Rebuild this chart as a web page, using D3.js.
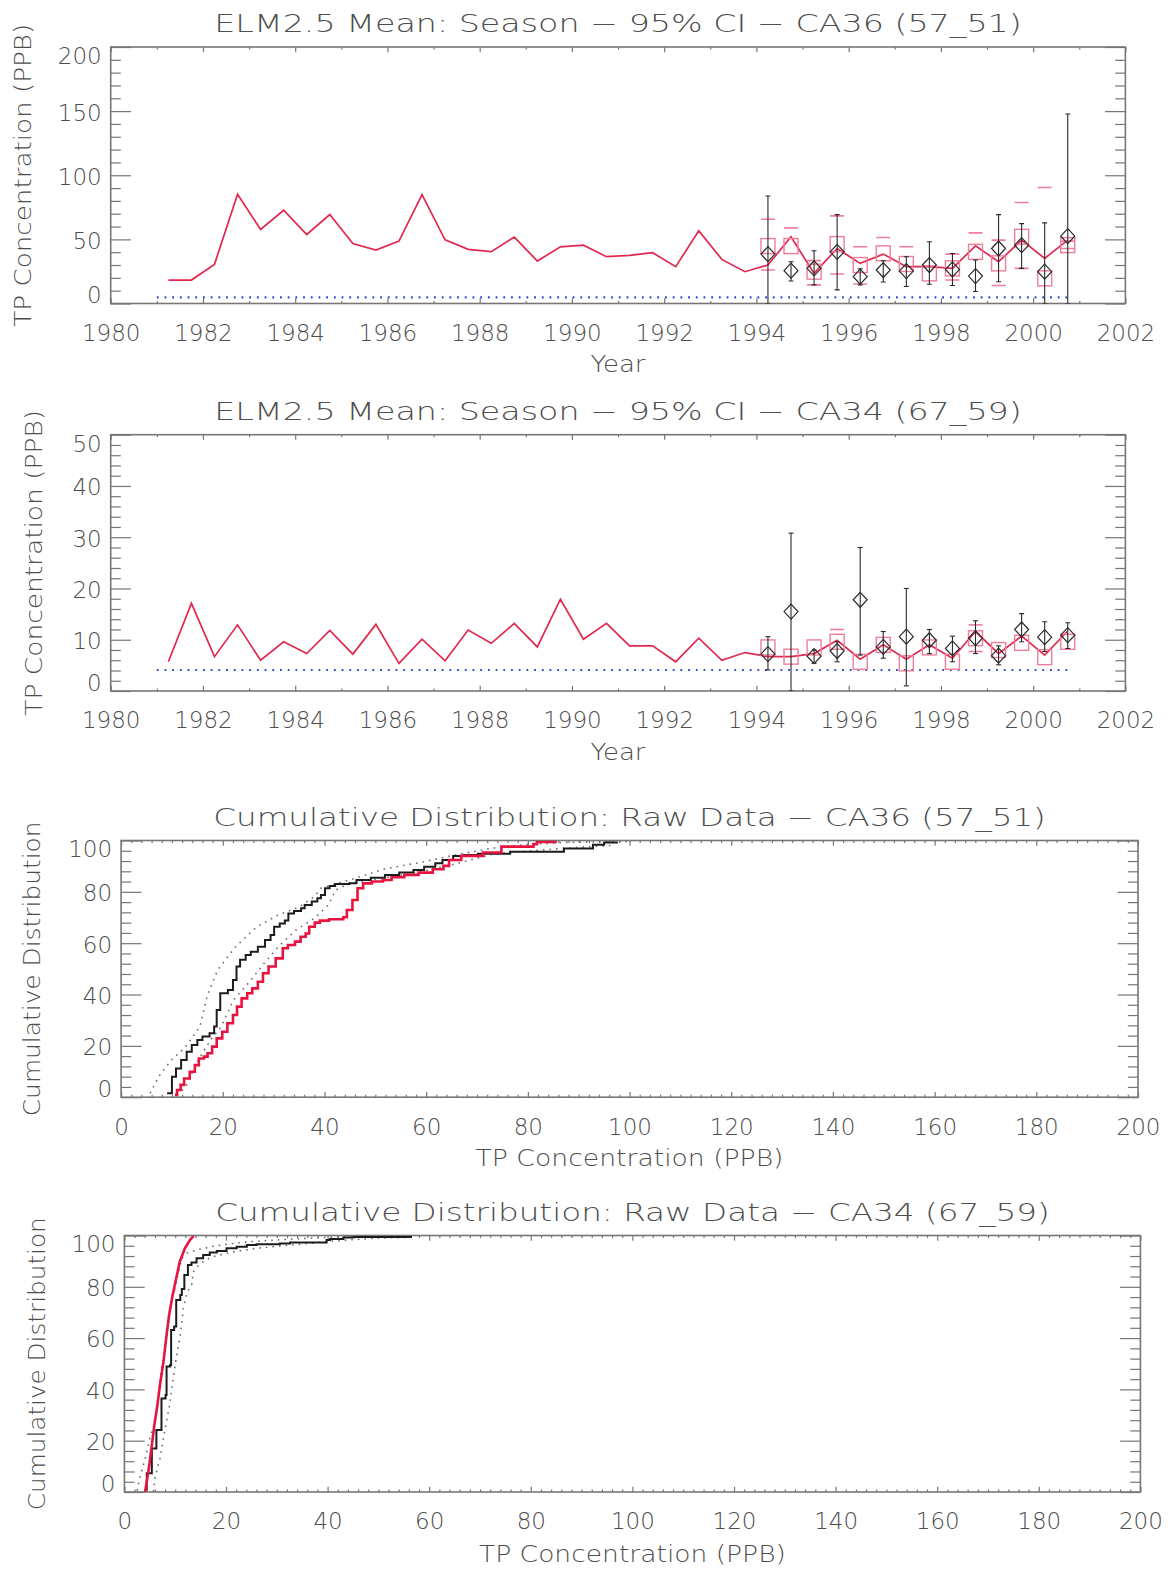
<!DOCTYPE html>
<html>
<head>
<meta charset="utf-8">
<script src="https://cdn.jsdelivr.net/npm/d3@7"></script>
<style>
body { margin: 0; background: #fff; }
text { font-family: "DejaVu Sans", sans-serif; font-weight: 200; }
</style>
</head>
<body>
<script>
// ---- seasonal model line (both stations) ----
var seasonYears = [1981.25, 1981.75, 1982.25, 1982.75, 1983.25, 1983.75, 1984.25, 1984.75, 1985.25, 1985.75,
	1986.25, 1986.75, 1987.25, 1987.75, 1988.25, 1988.75, 1989.25, 1989.75, 1990.25, 1990.75,
	1991.25, 1991.75, 1992.25, 1992.75, 1993.25, 1993.75, 1994.25, 1994.75, 1995.25, 1995.75,
	1996.25, 1996.75, 1997.25, 1997.75, 1998.25, 1998.75, 1999.25, 1999.75, 2000.25, 2000.75];

var ca36Model = [18.3, 18.3, 30.5, 85.2, 57.7, 72.7, 53.8, 69.4, 46.8, 41.7,
	48.7, 84.9, 49.6, 42.2, 40.4, 51.8, 33.1, 44.2, 45.5, 36.5,
	37.5, 39.6, 28.7, 56.7, 34.4, 24.8, 30.0, 52.0, 23.5, 42.9,
	31.3, 38.5, 28.7, 28.7, 27.4, 45.0, 32.6, 49.4, 35.2, 49.4];

var ca34Model = [5.7, 17.1, 6.7, 12.9, 6.0, 9.6, 7.3, 11.8, 7.2, 13.0,
	5.4, 10.1, 5.9, 11.9, 9.3, 13.2, 8.6, 17.9, 10.1, 13.2,
	8.8, 8.8, 5.7, 10.3, 6.0, 7.5, 6.7, 6.7, 7.3, 9.9,
	6.2, 9.0, 6.2, 9.0, 6.4, 11.6, 7.3, 10.7, 7.0, 11.7];

// ---- observed seasons ----
var obsYears = [1994.25, 1994.75, 1995.25, 1995.75, 1996.25, 1996.75, 1997.25,
	1997.75, 1998.25, 1998.75, 1999.25, 1999.75, 2000.25, 2000.75];

// CA36
var ca36Square = [44.8, 44.8, 24.8, 46.3, 30.0, 39.1, 30.8, 23.5, 27.4, 40.3, 31.3, 52.0, 19.6, 45.5];
var ca36PinkHi = [65.7, 59.0, 33.4, 68.3, 44.2, 51.5, 44.2, null, 38.5, 55.1, 49.4, 78.7, 90.4, 48.6];
var ca36PinkLo = [26.1, null, 14.5, 23.0, 15.2, null, null, null, 18.3, null, 14.0, 27.4, null, 42.9];
var ca36Mean = [38.5, 25.6, 27.4, 40.3, 20.9, 26.1, 25.3, 30.0, 26.6, 21.4, 42.9, 45.5, 24.8, 52.5];
var ca36Lo = [0, 17.6, 14.5, 10.6, 14.5, 16.8, 13.2, 15.0, 14.0, 9.3, 17.0, 27.4, 0, 0];
var ca36Hi = [83.8, 32.6, 41.1, 69.3, 27.1, 33.3, 36.5, 48.1, 39.0, 33.9, 69.3, 62.3, 62.9, 147.8];

// CA34
var ca34Square = [8.5, 6.7, 8.5, 9.6, 5.7, 9.0, 5.4, 8.5, 5.7, 10.3, 8.0, 9.4, 6.6, 9.6];
var ca34PinkHi = [null, null, null, 12.0, null, null, null, null, null, 12.9, null, null, null, null];
var ca34PinkLo = [null, null, null, null, null, null, null, null, null, 7.7, null, null, null, null];
var ca34Mean = [7.2, 15.5, 6.8, 7.8, 17.8, 8.6, 10.6, 9.9, 8.3, 10.3, 6.9, 12.0, 10.5, 10.9];
var ca34Lo = [4.1, 0, 5.4, 5.7, 7.0, 6.4, 1.0, 7.3, 5.7, 7.3, 5.1, 9.6, 7.7, 8.3];
var ca34Hi = [10.6, 30.8, 8.0, 9.6, 28.0, 11.6, 20.0, 12.0, 10.7, 13.7, 8.8, 15.1, 13.5, 13.3];

// dotted target line: [start year, end year, level]
var ca36Target = [1981.0, 2000.75, 4.8];
var ca34Target = [1981.0, 2000.75, 4.1];

// ---- cumulative distributions: [TP ppb, cumulative %] ----
var ca36CdfBlack = [[9.05,1.5],[10.0,8.0],[10.8,11.2],[11.8,14.5],[12.9,17.7],[13.9,20.3],[15.0,22.3],[16.0,23.6],
	[17.4,24.9],[18.3,27.5],[18.8,34.0],[19.5,40.5],[21.0,41.8],[22.0,45.7],[22.7,50.9],[23.4,53.5],[24.5,55.4],
	[25.5,56.7],[26.9,58.6],[28.3,61.2],[29.4,63.2],[30.1,66.4],[31.2,67.7],[32.2,68.8],[32.9,71.6],[34.0,72.5],
	[35.4,73.6],[36.1,74.9],[37.5,76.2],[38.6,77.5],[39.3,78.8],[40.1,81.4],[41.0,82.3],[42.1,83.1],[44.9,83.3],
	[46.3,84.6],[49.1,85.5],[51.9,86.6],[54.7,87.5],[57.5,88.5],[59.6,89.8],[61.8,91.1],[63.2,92.4],[65.3,94.0],
	[67.4,94.4],[70.2,94.8],[76.5,95.6],[87.1,96.9],[92.8,98.3],[95.0,99.2],[97.7,99.2]];
var ca36CdfRed = [[10.6,0.9],[11.0,2.8],[11.7,4.8],[12.4,7.3],[13.5,9.9],[14.5,12.5],[15.3,15.1],[16.3,15.8],
	[17.0,17.1],[17.9,19.7],[18.8,22.9],[19.9,25.5],[20.9,28.8],[22.0,32.0],[22.8,35.3],[23.7,38.5],[24.8,40.5],
	[25.8,42.4],[26.9,45.0],[27.9,48.3],[29.0,50.9],[30.4,54.1],[31.8,58.0],[32.8,59.3],[34.2,60.6],[35.3,62.5],
	[36.3,63.8],[37.0,66.4],[38.1,68.0],[39.1,68.8],[40.9,69.3],[43.7,70.1],[44.4,72.9],[45.5,76.8],[46.5,81.4],
	[47.6,83.3],[49.3,84.0],[51.5,84.6],[53.2,85.7],[55.7,86.6],[58.5,87.5],[61.3,88.8],[63.4,90.1],[64.5,92.4],
	[66.9,94.0],[71.2,95.3],[74.8,97.6],[81.1,98.6],[81.8,99.4],[85.7,99.4]];
var ca36BandHi = [[5.7,1.5],[7.4,8.0],[9.9,14.5],[12.7,19.7],[15.5,27.5],[16.9,39.2],[19.0,49.6],[22.5,58.6],
	[26.7,66.4],[30.9,71.0],[35.1,74.2],[38.0,78.1],[39.3,81.4],[44.9,84.6],[52,89],[59,91.5],[66,94.5],[73,97],
	[80,98.5],[88,99.3],[100,99.6]];
var ca36BandLo = [[11,0.9],[12.7,4],[14.8,13.2],[17.6,22.3],[19.7,27.5],[22.1,37.9],[25.3,45.0],[28.1,52.1],
	[30.9,58.6],[34.4,65.1],[38.0,69.7],[40.8,74.9],[42.2,80.7],[44.9,83.3],[49.1,84.6],[59,87.8],[66,91],
	[73.3,94.8],[87.3,97.0],[97.2,98.2]];

var ca34CdfBlack = [[4.4,0.5],[4.4,7.3],[5.4,17.0],[6.3,24.2],[7.3,36.5],[8.1,37.8],[8.3,48.9],[9.0,49.5],
	[9.2,63.2],[9.8,64.5],[10.2,74.9],[11.0,76.8],[11.3,79.1],[11.8,84.6],[12.5,88.5],[13.2,89.5],[14.2,91.1],
	[15.5,92.4],[16.8,93.4],[18.2,94.0],[20.1,95.0],[22.1,95.6],[24.1,96.3],[26.0,96.6],[30.6,96.9],[32.6,97.3],
	[39.8,98.2],[40.5,98.6],[43.1,99.2],[45.1,99.4],[56.6,99.4]];
var ca34CdfRed = [[4.06,0.1],[4.4,4.0],[4.9,10.5],[5.4,18.3],[5.9,26.1],[6.5,33.9],[7.0,41.7],[7.7,50.8],
	[8.3,61.2],[8.8,69.0],[9.5,76.8],[10.2,83.3],[10.9,89.8],[11.9,95.0],[12.9,98.2],[13.6,99.8]];
var ca34BandHi = [[2.5,0.5],[3.0,5.3],[4.1,13.1],[5.0,20.9],[6.0,27.4],[6.6,36.5],[7.3,48.2],[7.9,54.7],
	[8.6,65.1],[9.3,75.5],[9.9,78.8],[10.6,85.2],[11.3,91.1],[12.2,93.0],[14.5,94.5],[18,96],[24,97.5],
	[32,98.5],[42,99.5],[56.6,99.6]];
var ca34BandLo = [[5.7,0.1],[6.0,5.3],[7.0,13.1],[7.9,23.5],[8.9,33.9],[9.5,43.0],[10.2,52.1],[11.0,61.2],
	[11.6,71.6],[12.4,78.1],[13.2,80.1],[13.6,85.9],[14.9,89.1],[17,91.5],[21,93.5],[26,95],[34,96.5],
	[42,98],[50,99],[56.6,99.3]];

// ---- tick values ----
var yearTicks = [1980, 1982, 1984, 1986, 1988, 1990, 1992, 1994, 1996, 1998, 2000, 2002];
var ca36Ticks = [0, 50, 100, 150, 200];
var ca34Ticks = [0, 10, 20, 30, 40, 50];
var tpTicks = [0, 20, 40, 60, 80, 100, 120, 140, 160, 180, 200];
var pctTicks = [0, 20, 40, 60, 80, 100];

var axisCol = "#767676";
var textCol = "#4e4e4e";
var red = "#e2284f";
var pink = "#f07d9a";
var dark = "#2a2a2a";

var svg = d3.select("body").append("svg")
	.attr("width", 1173)
	.attr("height", 1573);

// minor tick positions between majors
function minors(major, n) {
	var out = [];
	for (var i = 0; i < major.length - 1; i++) {
		var step = (major[i+1] - major[i]) / n;
		for (var k = 1; k < n; k++) out.push(major[i] + k * step);
	}
	return out;
}

// text stretched sideways to the width of the original's wide vector font
function wideText(str, x, y, size, width, rot) {
	var t = svg.append("text")
		.text(str)
		.attr("text-anchor", "middle")
		.attr("font-size", size)
		.attr("fill", textCol);
	var k = width / t.node().getComputedTextLength();
	t.attr("transform", "translate(" + x + "," + y + ")" + (rot ? " rotate(-90)" : "") + " scale(" + k + ",1)");
	return t;
}

// frame with IDL style ticks on all four sides
function drawFrame(x, y, o) {
	var x0 = x.range()[0], x1 = x.range()[1];
	var yb = y.range()[0], yt = y.range()[1];
	var xl = 0.02 * (yb - yt), yl = 0.02 * (x1 - x0);
	var xMin = minors(o.xTicks, o.xMinor), yMin = minors(o.yTicks, o.yMinor);
	var yMax = o.yTicks[o.yTicks.length - 1], yLow = o.yTicks[0];

	var g = svg.append("g").attr("color", axisCol);

	function ax(gen, tr, vals, len, fmt, pad) {
		var a = g.append("g")
			.attr("transform", tr)
			.call(gen.tickValues(vals).tickSize(-len).tickPadding(pad || 3).tickFormat(fmt));
		a.select(".domain").remove();
		a.selectAll("line").attr("stroke-width", 1.2);
		a.attr("font-size", 23).attr("font-family", null);
		a.selectAll("text").attr("fill", textCol);
		return a;
	}

	ax(d3.axisBottom(x), "translate(0," + yb + ")", o.xTicks, xl, d3.format("d"), 21);
	ax(d3.axisBottom(x), "translate(0," + yb + ")", xMin, xl / 2, "");
	ax(d3.axisTop(x), "translate(0," + yt + ")", o.xTicks, xl, "");
	ax(d3.axisTop(x), "translate(0," + yt + ")", xMin, xl / 2, "");
	var ll = ax(d3.axisLeft(y), "translate(" + x0 + ",0)", o.yTicks, yl, d3.format("d"), 9);
	ax(d3.axisLeft(y), "translate(" + x0 + ",0)", yMin, yl / 2, "");
	ax(d3.axisRight(y), "translate(" + x1 + ",0)", o.yTicks, yl, "");
	ax(d3.axisRight(y), "translate(" + x1 + ",0)", yMin, yl / 2, "");

	// end labels sit inside the frame on the original
	ll.selectAll(".tick text")
		.attr("transform", d => d === yMax ? "translate(0,9)" : d === yLow ? "translate(0,-8)" : "translate(0,1.5)");

	g.append("rect")
		.attr("x", x0).attr("y", yt)
		.attr("width", x1 - x0).attr("height", yb - yt)
		.attr("fill", "none")
		.attr("stroke", axisCol)
		.attr("stroke-width", 1.6);

	// titles
	var cx = (x0 + x1) / 2;
	wideText(o.title, cx, o.titleY, 25, o.titleW);
	wideText(o.xLabel, cx, o.xLabelY, 23, o.xLabelW);
	wideText(o.yLabel, o.yLabelX, (yb + yt) / 2, 23, o.yLabelW, true);

	// clip for the data
	var id = "clip" + Math.round(yt);
	svg.append("clipPath").attr("id", id)
		.append("rect")
		.attr("x", x0).attr("y", yt)
		.attr("width", x1 - x0).attr("height", yb - yt);
	return svg.append("g").attr("clip-path", "url(#" + id + ")");
}

function drawSeason(x, y, plot, d) {
	// target level
	plot.append("line")
		.attr("x1", x(d.target[0])).attr("x2", x(d.target[1]))
		.attr("y1", y(d.target[2])).attr("y2", y(d.target[2]))
		.attr("stroke", "#3346d4")
		.attr("stroke-width", 2.2)
		.attr("stroke-dasharray", "1.8,5.9");

	// model line
	plot.append("path")
		.datum(d.model)
		.attr("d", d3.line().x((v, i) => x(seasonYears[i])).y(v => y(v)))
		.attr("fill", "none")
		.attr("stroke", red)
		.attr("stroke-width", 1.7);

	// pink squares
	plot.selectAll("rect.sq")
		.data(d.square)
		.enter()
		.append("rect")
		.attr("class", "sq")
		.attr("x", (v, i) => x(obsYears[i]) - 7)
		.attr("y", v => y(v) - 7.5)
		.attr("width", 14)
		.attr("height", 15)
		.attr("fill", "none")
		.attr("stroke", pink)
		.attr("stroke-width", 1.4);

	// pink confidence dashes
	var dashes = [];
	obsYears.forEach((yr, i) => {
		if (d.pinkHi[i] != null) dashes.push([yr, d.pinkHi[i]]);
		if (d.pinkLo[i] != null) dashes.push([yr, d.pinkLo[i]]);
	});
	plot.selectAll("line.ci")
		.data(dashes)
		.enter()
		.append("line")
		.attr("class", "ci")
		.attr("x1", v => x(v[0]) - 7).attr("x2", v => x(v[0]) + 7)
		.attr("y1", v => y(v[1])).attr("y2", v => y(v[1]))
		.attr("stroke", pink)
		.attr("stroke-width", 1.6);

	// black error bars
	var bars = plot.selectAll("g.bar")
		.data(obsYears)
		.enter()
		.append("g")
		.attr("class", "bar")
		.attr("stroke", dark)
		.attr("stroke-width", 1.1);
	bars.append("line")
		.attr("x1", v => x(v)).attr("x2", v => x(v))
		.attr("y1", (v, i) => y(d.lo[i])).attr("y2", (v, i) => y(d.hi[i]));
	bars.append("line")
		.attr("x1", v => x(v) - 2.5).attr("x2", v => x(v) + 2.5)
		.attr("y1", (v, i) => y(d.hi[i])).attr("y2", (v, i) => y(d.hi[i]));
	bars.append("line")
		.attr("x1", v => x(v) - 2.5).attr("x2", v => x(v) + 2.5)
		.attr("y1", (v, i) => y(d.lo[i])).attr("y2", (v, i) => y(d.lo[i]));

	// diamonds
	plot.selectAll("path.dm")
		.data(d.mean)
		.enter()
		.append("path")
		.attr("class", "dm")
		.attr("d", (v, i) => {
			var cx = x(obsYears[i]), cy = y(v);
			return "M" + (cx - 7) + "," + cy + "L" + cx + "," + (cy - 7.5) + "L" + (cx + 7) + "," + cy + "L" + cx + "," + (cy + 7.5) + "Z";
		})
		.attr("fill", "none")
		.attr("stroke", dark)
		.attr("stroke-width", 1.2);
}

function drawCdf(x, y, plot, d) {
	var dotted = d3.line().x(v => x(v[0])).y(v => y(v[1]));
	[d.bandHi, d.bandLo].forEach(b => {
		plot.append("path")
			.datum(b)
			.attr("d", dotted)
			.attr("fill", "none")
			.attr("stroke", "#6f6f6f")
			.attr("stroke-width", 1.6)
			.attr("stroke-dasharray", "1.6,5");
	});
	plot.append("path")
		.datum(d.black)
		.attr("d", d3.line().curve(d3.curveStepAfter).x(v => x(v[0])).y(v => y(v[1])))
		.attr("fill", "none")
		.attr("stroke", "#1c1c1c")
		.attr("stroke-width", 2);
	plot.append("path")
		.datum(d.red)
		.attr("d", d3.line().curve(d.redCurve).x(v => x(v[0])).y(v => y(v[1])))
		.attr("fill", "none")
		.attr("stroke", "#e8143f")
		.attr("stroke-width", 2.6);
}

// ---- panel 1 ----
var x1 = d3.scaleLinear().domain([1980, 2002]).range([110.7, 1125.4]);
var y1 = d3.scaleLinear().domain([0, 200]).range([303.5, 47]);
var p1 = drawFrame(x1, y1, {
	xTicks: yearTicks, xMinor: 2, yTicks: ca36Ticks, yMinor: 5,
	title: "ELM2.5 Mean: Season \u2212 95% CI \u2212 CA36 (57_51)", titleY: 32, titleW: 808,
	xLabel: "Year", xLabelY: 372, xLabelW: 55,
	yLabel: "TP Concentration (PPB)", yLabelX: 31, yLabelW: 303
});
drawSeason(x1, y1, p1, {
	model: ca36Model, target: ca36Target, square: ca36Square,
	pinkHi: ca36PinkHi, pinkLo: ca36PinkLo, mean: ca36Mean, lo: ca36Lo, hi: ca36Hi
});

// ---- panel 2 ----
var y2 = d3.scaleLinear().domain([0, 50]).range([691, 434.7]);
var p2 = drawFrame(x1, y2, {
	xTicks: yearTicks, xMinor: 2, yTicks: ca34Ticks, yMinor: 5,
	title: "ELM2.5 Mean: Season \u2212 95% CI \u2212 CA34 (67_59)", titleY: 420, titleW: 808,
	xLabel: "Year", xLabelY: 760, xLabelW: 55,
	yLabel: "TP Concentration (PPB)", yLabelX: 42, yLabelW: 306
});
drawSeason(x1, y2, p2, {
	model: ca34Model, target: ca34Target, square: ca34Square,
	pinkHi: ca34PinkHi, pinkLo: ca34PinkLo, mean: ca34Mean, lo: ca34Lo, hi: ca34Hi
});

// ---- panel 3 ----
var x3 = d3.scaleLinear().domain([0, 200]).range([121.1, 1138]);
var y3 = d3.scaleLinear().domain([0, 100]).range([1097.2, 840.5]);
var p3 = drawFrame(x3, y3, {
	xTicks: tpTicks, xMinor: 10, yTicks: pctTicks, yMinor: 5,
	title: "Cumulative Distribution: Raw Data \u2212 CA36 (57_51)", titleY: 826, titleW: 833,
	xLabel: "TP Concentration (PPB)", xLabelY: 1166, xLabelW: 308,
	yLabel: "Cumulative Distribution", yLabelX: 40, yLabelW: 295
});
drawCdf(x3, y3, p3, {black: ca36CdfBlack, red: ca36CdfRed, bandHi: ca36BandHi, bandLo: ca36BandLo, redCurve: d3.curveStepAfter});

// ---- panel 4 ----
var x4 = d3.scaleLinear().domain([0, 200]).range([124.4, 1140.4]);
var y4 = d3.scaleLinear().domain([0, 100]).range([1492, 1235.5]);
var p4 = drawFrame(x4, y4, {
	xTicks: tpTicks, xMinor: 10, yTicks: pctTicks, yMinor: 5,
	title: "Cumulative Distribution: Raw Data \u2212 CA34 (67_59)", titleY: 1221, titleW: 835,
	xLabel: "TP Concentration (PPB)", xLabelY: 1562, xLabelW: 307,
	yLabel: "Cumulative Distribution", yLabelX: 45, yLabelW: 293
});
drawCdf(x4, y4, p4, {black: ca34CdfBlack, red: ca34CdfRed, bandHi: ca34BandHi, bandLo: ca34BandLo, redCurve: d3.curveLinear});
</script>
</body>
</html>
